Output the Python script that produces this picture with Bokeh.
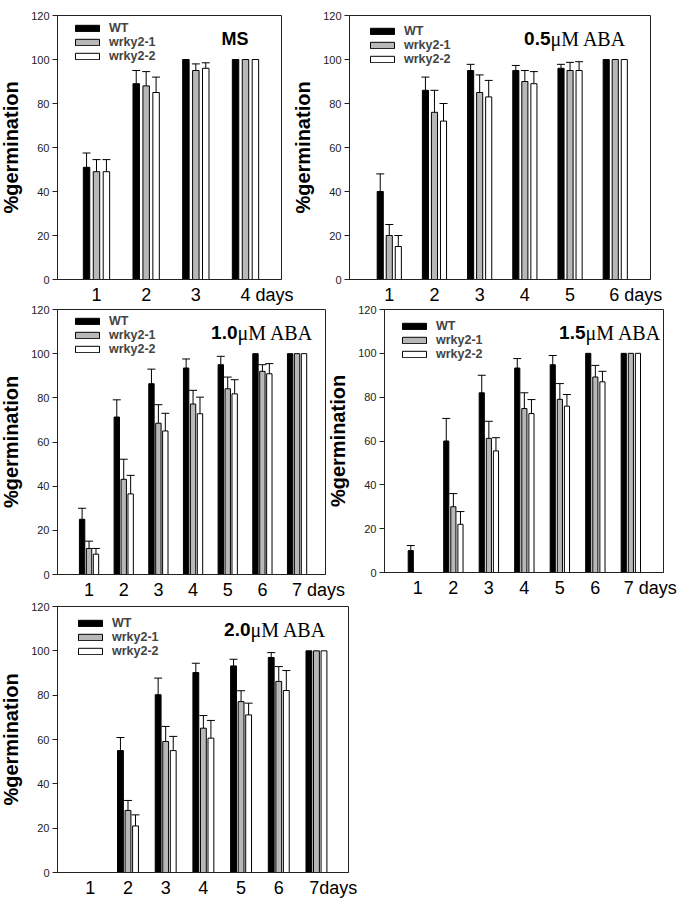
from bokeh.plotting import figure
from bokeh.models import (ColumnDataSource, Whisker, TeeHead, Label, Legend,
                          LegendItem, FixedTicker, Range1d)
from bokeh.layouts import column, row
from bokeh.embed import file_html
from bokeh.resources import INLINE

# ---------------- data ----------------
series_names = ["WT", "wrky2-1", "wrky2-2"]
y_ticks = [0, 20, 40, 60, 80, 100, 120]
y_label = "%germination"
days_word = ["4 days", "6 days", "7 days", "7 days", "7days"]

# MS
ms_days = [1, 2, 3, 4]
ms_wt = [51, 89, 100, 100]
ms_wt_err = [6.5, 6, 0, 0]
ms_w1 = [49, 88, 95, 100]
ms_w1_err = [5.5, 6.5, 3, 0]
ms_w2 = [49, 85, 96, 100]
ms_w2_err = [5.5, 7, 2.5, 0]

# 0.5 uM ABA
a05_days = [1, 2, 3, 4, 5, 6]
a05_wt = [40, 86, 95, 95, 96, 100]
a05_wt_err = [8, 6, 2.8, 2.3, 1.8, 0]
a05_w1 = [20, 76, 85, 90, 95, 100]
a05_w1_err = [5, 10, 8, 5, 3.7, 0]
a05_w2 = [15, 72, 83, 89, 95, 100]
a05_w2_err = [5, 8, 7.5, 5.5, 4, 0]

# 1.0 uM ABA
a10_days = [1, 2, 3, 4, 5, 6, 7]
a10_wt = [25, 71.3, 86.4, 93.5, 95, 100, 100]
a10_wt_err = [5, 7.8, 6.6, 4.1, 3.8, 0, 0]
a10_w1 = [11.8, 43.1, 68.5, 77.2, 84.1, 92, 100]
a10_w1_err = [3.3, 9.1, 8.4, 6.2, 5.3, 3, 0]
a10_w2 = [9.2, 36.5, 65, 72.8, 81.8, 90.9, 100]
a10_w2_err = [2.6, 8.4, 8, 7.5, 6.4, 4.6, 0]

# 1.5 uM ABA
a15_days = [1, 2, 3, 4, 5, 6, 7]
a15_wt = [10, 60, 82, 93.3, 94.8, 100, 100]
a15_wt_err = [2.3, 10.3, 8, 4.3, 4.2, 0, 0]
a15_w1 = [0, 30, 61.2, 74.8, 79, 89.2, 100]
a15_w1_err = [0, 6, 7.8, 7.2, 7.2, 5.3, 0]
a15_w2 = [0, 22, 55.5, 72.5, 75.9, 87, 100]
a15_w2_err = [0, 5.8, 6, 6.4, 5.3, 4.8, 0]

# 2.0 uM ABA
a20_days = [1, 2, 3, 4, 5, 6, 7]
a20_wt = [0, 55, 80.2, 90.2, 93.2, 97, 100]
a20_wt_err = [0, 5.9, 7.5, 4.2, 3, 2.2, 0]
a20_w1 = [0, 28, 59.1, 65.1, 77.1, 86.2, 100]
a20_w1_err = [0, 4.5, 6.8, 5.7, 4.9, 6.7, 0]
a20_w2 = [0, 21, 55, 60.6, 71.1, 82.1, 100]
a20_w2_err = [0, 5, 6.4, 8, 5.3, 9, 0]

titles = [("MS", ""), ("0.5", "\u03bcM ABA"), ("1.0", "\u03bcM ABA"),
          ("1.5", "\u03bcM ABA"), ("2.0", "\u03bcM ABA")]

panel_data = [
    (ms_days, [ms_wt, ms_w1, ms_w2], [ms_wt_err, ms_w1_err, ms_w2_err]),
    (a05_days, [a05_wt, a05_w1, a05_w2], [a05_wt_err, a05_w1_err, a05_w2_err]),
    (a10_days, [a10_wt, a10_w1, a10_w2], [a10_wt_err, a10_w1_err, a10_w2_err]),
    (a15_days, [a15_wt, a15_w1, a15_w2], [a15_wt_err, a15_w1_err, a15_w2_err]),
    (a20_days, [a20_wt, a20_w1, a20_w2], [a20_wt_err, a20_w1_err, a20_w2_err]),
]

# ---------------- style / layout ----------------
fills = ["black", "#b8b8b8", "white"]
offsets = [-0.2, 0.0, 0.2]
SANS = "Liberation Sans"
SERIF = "Liberation Serif"

specs = [
    dict(fw=224, fh=264, xr=(0.215, 4.725), top=16, bottom=30, right=30, margin=(-1, 0, 0, -3), leg=(15, 13), split=164, last_shift=21.5, bw=0.13),
    dict(fw=301, fh=264, xr=(0.12, 6.78), top=16, bottom=30, right=20, margin=(-1, 0, 0, -22), leg=(18, 16), split=201, last_shift=20.5, bw=0.135),
    dict(fw=268, fh=265, xr=(0.09, 7.82), top=10, bottom=30, right=30, margin=(-12, 0, 0, -3), leg=(15, 12), split=180, last_shift=21.5, bw=0.155),
    dict(fw=279, fh=263, xr=(0.06, 7.92), top=12, bottom=30, right=20, margin=(-12, 0, 0, -31), leg=(15, 17), split=201, last_shift=19.5, bw=0.145),
    dict(fw=294, fh=266, xr=(0.13, 7.85), top=10, bottom=30, right=30, margin=(-6, 0, 0, -3), leg=(18, 17), split=195, last_shift=17, bw=0.155),
]


def make_panel(idx):
    days, vals, errs = panel_data[idx]
    s = specs[idx]
    x0, x1 = s["xr"]
    p = figure(frame_width=s["fw"], frame_height=s["fh"],
               x_range=Range1d(x0, x1), y_range=Range1d(0, 120),
               output_backend="svg", toolbar_location=None,
               min_border_left=58, min_border_right=s["right"],
               min_border_top=s["top"], min_border_bottom=s["bottom"],
               border_fill_color=None, background_fill_color="white",
               outline_line_color="#222222", outline_line_width=1,
               margin=s["margin"])
    p.grid.visible = False

    # y axis
    p.yaxis.ticker = FixedTicker(ticks=y_ticks)
    p.yaxis.major_tick_out = 5
    p.yaxis.major_tick_in = 0
    p.yaxis.minor_tick_line_color = None
    p.yaxis.axis_line_color = "#222222"
    p.yaxis.major_tick_line_color = "#222222"
    p.yaxis.major_label_text_font = SANS
    p.yaxis.major_label_text_font_size = "11px"
    p.yaxis.major_label_text_color = "#222222"
    p.yaxis.major_label_standoff = 3
    p.yaxis.axis_label = y_label
    p.yaxis.axis_label_text_font = SANS
    p.yaxis.axis_label_text_font_style = "bold"
    p.yaxis.axis_label_text_font_size = "20px"
    p.yaxis.axis_label_text_color = "black"
    p.yaxis.axis_label_standoff = 6

    # x axis: last label carries the unit word, centred a little to the right
    shift = round(s["last_shift"] / s["fw"] * (x1 - x0), 3)
    last_tick = days[-1] + shift
    ticks = list(days[:-1]) + [last_tick]
    p.xaxis.ticker = FixedTicker(ticks=ticks)
    p.xaxis.major_label_overrides = {last_tick: days_word[idx]}
    p.xaxis.major_tick_out = 0
    p.xaxis.major_tick_in = 0
    p.xaxis.major_tick_line_color = None
    p.xaxis.minor_tick_line_color = None
    p.xaxis.axis_line_color = "#222222"
    p.xaxis.major_label_text_font = SANS
    p.xaxis.major_label_text_font_size = "18px"
    p.xaxis.major_label_text_color = "black"
    p.xaxis.major_label_standoff = 5

    # bars + error bars
    items = []
    for k in range(3):
        xs = [d + offsets[k] for d in days]
        src = ColumnDataSource(dict(x=xs, val=vals[k]))
        r = p.vbar(x="x", top="val", bottom=0, width=s["bw"], source=src,
                   fill_color=fills[k], line_color="black", line_width=1)
        items.append(LegendItem(label=series_names[k], renderers=[r]))
        ex = [x for x, e in zip(xs, errs[k]) if e > 0]
        ev = [v for v, e in zip(vals[k], errs[k]) if e > 0]
        eu = [v + e for v, e in zip(vals[k], errs[k]) if e > 0]
        esrc = ColumnDataSource(dict(x=ex, val=ev, upper=eu))
        w = Whisker(source=esrc, base="x", lower="val", upper="upper",
                    dimension="height", line_color="black", line_width=1,
                    upper_head=TeeHead(size=8, line_color="black", line_width=1),
                    lower_head=None)
        p.add_layout(w)

    # legend
    lx, ly = s["leg"]
    row_h = 14
    leg_h = 3 * row_h
    legend = Legend(items=items, location=(lx, s["fh"] - (ly - row_h / 2) - leg_h),
                    orientation="vertical", glyph_width=30, glyph_height=8,
                    label_height=row_h, label_text_font=SANS,
                    label_text_font_size="12.5px", label_text_font_style="bold",
                    label_standoff=7, spacing=0, padding=0, margin=0,
                    border_line_color=None, background_fill_alpha=0)
    p.add_layout(legend)

    # title text inside plot
    split_x = x0 + s["split"] / s["fw"] * (x1 - x0)
    ty = 120 - 23 * 120 / s["fh"]
    num, unit = titles[idx]
    if unit:
        p.add_layout(Label(x=split_x, y=ty, text=num, text_align="right",
                           text_baseline="alphabetic", text_font=SANS,
                           text_font_style="bold", text_font_size="19px",
                           text_color="black"))
        p.add_layout(Label(x=split_x, y=ty, text=unit, text_align="left",
                           text_baseline="alphabetic", text_font=SERIF,
                           text_font_size="20px", text_color="black"))
    else:
        p.add_layout(Label(x=split_x, y=ty, text=num, text_align="left",
                           text_baseline="alphabetic", text_font=SANS,
                           text_font_style="bold", text_font_size="18px",
                           text_color="black"))
    return p


panels = [make_panel(i) for i in range(5)]
layout = column(row(panels[0], panels[1]), row(panels[2], panels[3]), row(panels[4]))

open("out.html", "w").write(file_html(layout, INLINE))
